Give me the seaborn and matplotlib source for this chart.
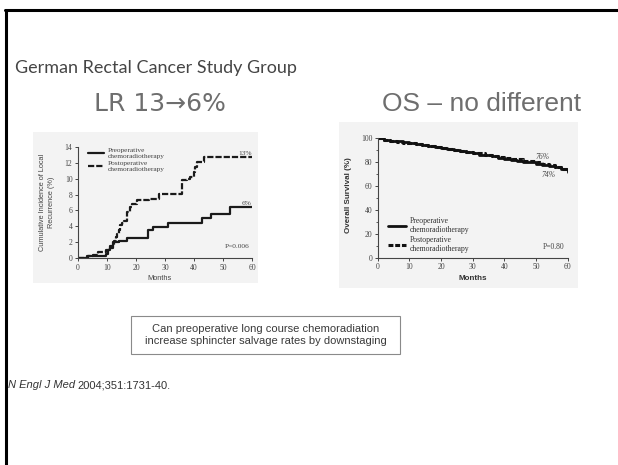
import matplotlib
matplotlib.use("Agg")
import matplotlib.pyplot as plt
from matplotlib.patches import Rectangle
from matplotlib.lines import Line2D
from matplotlib.ticker import MultipleLocator
import seaborn as sns

# Local recurrence (%)
pre_lr_months = [0, 3, 6.5, 9.5, 10.5, 11.2, 12, 14, 17, 24, 26, 31, 42.6, 46, 52.4, 60]
pre_lr_vals = [0, 0.2, 0.3, 0.5, 1.0, 1.5, 2.0, 2.2, 2.5, 3.5, 3.9, 4.4, 5.0, 5.5, 6.4, 6.4]
post_lr_months = [0, 3.5, 5, 7, 9.5, 11, 12, 12.5, 13, 13.5, 14, 14.6, 15.2, 15.7, 17, 17.8,
                  18.6, 20.3, 24.4, 27.8, 35.9, 36.5, 37.6, 38.7, 39.9, 40.5, 41, 43.3, 60]
post_lr_vals = [0, 0.2, 0.4, 0.8, 1.0, 1.3, 1.7, 2.2, 2.6, 3.0, 3.5, 4.1, 4.4, 4.7, 5.8, 6.4,
                6.8, 7.3, 7.4, 8.1, 9.8, 9.9, 10.0, 10.2, 10.8, 11.5, 12.1, 12.7, 12.7]

# Overall survival (%)
os_months = [0, 2, 4, 6, 8, 10, 12, 14, 16, 18, 20, 22, 24, 26, 28, 30,
             32, 34, 36, 38, 40, 42, 44, 46, 48, 50, 52, 54, 56, 58, 60]
pre_os = [100, 98.5, 97.5, 97, 96.5, 95.5, 95, 94, 93, 92.5, 91.5, 90.5, 89.5, 89, 88, 87,
          86, 85.5, 84.5, 83.5, 82.5, 81.5, 81, 80, 79.5, 78.5, 77.5, 76.5, 75.5, 74, 71.5]
post_os = [100, 98, 97, 96.5, 96, 95.5, 94.5, 94, 93, 92, 91.5, 90.5, 90, 89, 88.5, 87.5,
           87, 86, 85, 84, 83, 82.5, 82, 81, 80.5, 79.5, 78.5, 77, 75.5, 74, 72]

legend_labels = ["Preoperative\nchemoradiotherapy", "Postoperative\nchemoradiotherapy"]

sns.set_style("ticks")
plt.rcParams['font.family'] = ['Liberation Sans', 'DejaVu Sans']

W, H = 618, 465
fig = plt.figure(figsize=(6.18, 4.65), dpi=100)


def fx(px):
    return px / W


def fy(py):
    return 1 - py / H


def panel(x0, y0, x1, y1):
    fig.patches.append(Rectangle((fx(x0), fy(y1)), fx(x1 - x0), (y1 - y0) / H,
                                 transform=fig.transFigure, facecolor="#f3f3f3",
                                 edgecolor="none", zorder=-5))


# slide frame
fig.add_artist(Line2D([fx(5), 1], [fy(10), fy(10)], color="black", lw=2.2))
fig.add_artist(Line2D([fx(6), fx(6)], [fy(10), 0], color="black", lw=2.2))

fig.text(fx(15), fy(68), "German Rectal Cancer Study Group", family="Lato",
         fontsize=13, color="#454545", va="center", ha="left")
fig.text(fx(160), fy(104), "LR 13\u21926%", family=["DejaVu Sans"],
         fontsize=18, color="#6e6e6e", va="center", ha="center")
fig.text(fx(482), fy(104), "OS \u2013 no different", fontsize=19, color="#6e6e6e",
         va="center", ha="center")

panel(33, 132, 258, 283)
panel(339, 122, 578, 288)


def style_axes(ax):
    ax.set_facecolor("none")
    sns.despine(ax=ax)
    for s in ["left", "bottom"]:
        ax.spines[s].set_color("#444444")
        ax.spines[s].set_linewidth(0.8)
    ax.tick_params(labelsize=5.5, length=2.5, width=0.7, color="#444444",
                   labelcolor="#444444", pad=1.5)
    ax.tick_params(which="minor", length=1.5, width=0.6, color="#444444")
    for lab in ax.get_xticklabels() + ax.get_yticklabels():
        lab.set_family("Liberation Serif")


# ---- left chart: local recurrence
ax1 = fig.add_axes([fx(78), fy(258), fx(174), 111 / H])
sns.lineplot(x=pre_lr_months, y=pre_lr_vals, ax=ax1, drawstyle="steps-post",
             color="#1a1a1a", lw=1.6, label=legend_labels[0])
sns.lineplot(x=post_lr_months, y=post_lr_vals, ax=ax1, drawstyle="steps-post",
             color="#1a1a1a", lw=1.6, label=legend_labels[1])
ax1.lines[1].set_dashes([2.8, 0.9])
ax1.set_xlim(0, 60)
ax1.set_ylim(0, 14)
ax1.set_xticks(range(0, 61, 10))
ax1.set_yticks(range(0, 15, 2))
style_axes(ax1)
ax1.set_xlabel("Months", fontsize=5.3, color="#444444")
ax1.set_ylabel("Cumulative Incidence of Local\nRecurrence (%)", fontsize=5.3,
               color="#444444", linespacing=1.3)
ax1.xaxis.set_label_coords(0.47, -0.15)
ax1.yaxis.set_label_coords(-0.135, 0.5)
ax1.legend(loc="upper left", bbox_to_anchor=(0.02, 1.05), frameon=False,
           prop={"family": "Liberation Serif", "size": 5.3}, handlelength=2.2,
           handletextpad=0.5, labelspacing=0.3, labelcolor="#444444")
ax1.text(60, 12.9, "13%", ha="right", va="bottom", fontsize=5.3,
         family="Liberation Serif", color="#444444")
ax1.text(60, 6.6, "6%", ha="right", va="bottom", fontsize=5.3,
         family="Liberation Serif", color="#444444")
ax1.text(59, 1.4, "P=0.006", ha="right", va="center", fontsize=5.3,
         family="Liberation Serif", color="#444444")

# ---- right chart: overall survival
ax2 = fig.add_axes([fx(377.7), fy(257.7), fx(190), 120 / H])
sns.lineplot(x=os_months, y=pre_os, ax=ax2, drawstyle="steps-post",
             color="#111111", lw=2.0, label=legend_labels[0])
sns.lineplot(x=os_months, y=post_os, ax=ax2, drawstyle="steps-post",
             color="#111111", lw=2.2, label=legend_labels[1])
ax2.lines[1].set_dashes([1.6, 0.6])
ax2.set_xlim(0, 60)
ax2.set_ylim(0, 100)
ax2.set_xticks(range(0, 61, 10))
ax2.set_yticks(range(0, 101, 20))
ax2.yaxis.set_minor_locator(MultipleLocator(10))
style_axes(ax2)
ax2.set_xlabel("Months", fontsize=5.8, color="#333333", fontweight="bold")
ax2.set_ylabel("Overall Survival (%)", fontsize=5.8, color="#333333", fontweight="bold")
ax2.xaxis.set_label_coords(0.50, -0.14)
ax2.yaxis.set_label_coords(-0.135, 0.52)
ax2.legend(loc="upper left", bbox_to_anchor=(0.02, 0.40), frameon=False,
           prop={"family": "Liberation Serif", "size": 5.6}, handlelength=2.2,
           handletextpad=0.5, labelspacing=0.3, labelcolor="#333333")
ax2.text(52.2, 83.9, "76%", ha="center", va="center", fontsize=5.5,
         family="Liberation Serif", color="#444444", style="italic")
ax2.text(54, 69, "74%", ha="center", va="center", fontsize=5.5,
         family="Liberation Serif", color="#444444", style="italic")
ax2.text(59.1, 8.9, "P=0.80", ha="right", va="center", fontsize=5.5,
         family="Liberation Serif", color="#444444")

# ---- question box
fig.patches.append(Rectangle((fx(131), fy(354)), fx(269), 38 / H,
                             transform=fig.transFigure, facecolor="white",
                             edgecolor="#8a8a8a", lw=0.8, zorder=-5))
fig.text(fx(265.5), fy(335), "Can preoperative long course chemoradiation\n"
         "increase sphincter salvage rates by downstaging", fontsize=8,
         color="#3a3a3a", ha="center", va="center", linespacing=1.35)

# ---- citation
cite = fig.text(fx(8), fy(385), "N Engl J Med", fontsize=8, style="italic",
                color="#333333", va="center", ha="left")
ax1.annotate("2004;351:1731-40.", xy=(1, 0.5), xycoords=cite, xytext=(2, 0),
             textcoords="offset points", fontsize=8, color="#333333",
             va="center", ha="left", annotation_clip=False)

fig.savefig("out.png", dpi=100, facecolor="white")
